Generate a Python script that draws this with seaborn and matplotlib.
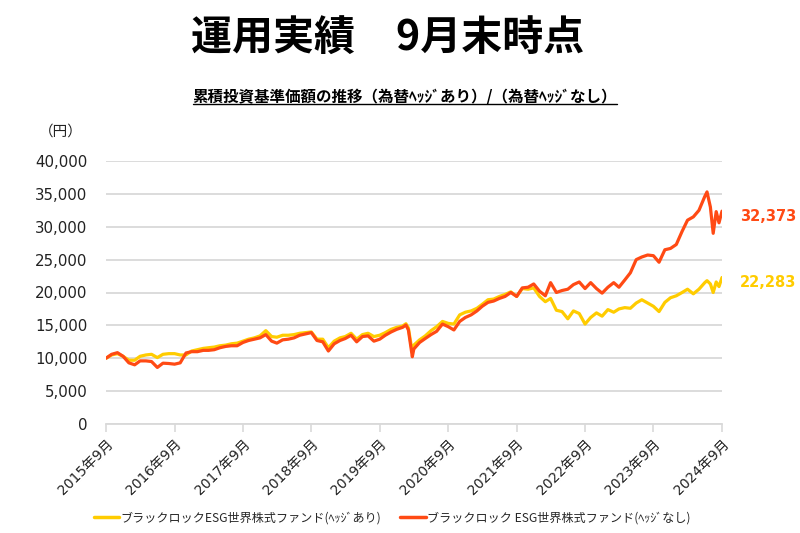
import numpy as np
import pandas as pd
import matplotlib
matplotlib.use("Agg")
import matplotlib.pyplot as plt
import matplotlib.dates as mdates
import seaborn as sns
from matplotlib.lines import Line2D
from matplotlib.transforms import IdentityTransform

# ---------------- data ----------------
title = "運用実績　9月末時点"
subtitle = "累積投資基準価額の推移（為替ﾍｯｼﾞあり）/（為替ﾍｯｼﾞなし）"
series_names = ["ブラックロックESG世界株式ファンド(ﾍｯｼﾞあり)",
                "ブラックロック ESG世界株式ファンド(ﾍｯｼﾞなし)"]
unit_label = "（円）"
end_labels = ["22,283", "32,373"]

months = pd.date_range("2015-09-01", "2024-09-01", freq="MS")

hedged = [
    10000, 10500, 10700, 10300,
    9700, 9700, 10300, 10500, 10600, 10100, 10600, 10700, 10700, 10500, 10500, 11100,
    11300, 11500, 11600, 11700, 11900, 12000, 12200, 12300, 12600, 12900, 13100, 13400,
    14200, 13300, 13200, 13500, 13500, 13600, 13800, 13900, 14000, 12900, 12900, 11600,
    12600, 13100, 13300, 13800, 12900, 13600, 13800, 13300, 13500, 13900, 14400, 14700,
    14900, 14600, 12000, 12800, 13400, 14200, 14800, 15600, 15300, 15200, 16600, 17000,
    17200, 17600, 18200, 18900, 19000, 19400, 19700, 20100, 19400, 20600, 20500, 20700,
    19400, 18600, 19100, 17300, 17100, 16000, 17200, 16800, 15200, 16200, 16900, 16400,
    17400, 17000, 17500, 17700, 17600, 18400, 18900, 18400, 17900, 17100, 18500, 19200,
    19500, 20000, 20500, 19800, 20500, 21500, 21300, 21600, 22283,
]

unhedged = [
    10000, 10600, 10850, 10300,
    9300, 9000, 9600, 9600, 9500, 8600, 9250, 9200, 9100, 9300, 10800, 11000,
    11000, 11200, 11200, 11300, 11600, 11800, 11900, 11900, 12400, 12700, 12900, 13100,
    13600, 12600, 12300, 12800, 12900, 13100, 13500, 13700, 13900, 12700, 12500, 11100,
    12200, 12700, 13000, 13500, 12500, 13300, 13400, 12600, 12900, 13500, 14000, 14400,
    14700, 14300, 11400, 12400, 13000, 13600, 14100, 15200, 14800, 14300, 15600, 16200,
    16600, 17200, 17900, 18500, 18700, 19100, 19400, 20000, 19400, 20700, 20800, 21300,
    20200, 19500, 21500, 20000, 20300, 20500, 21200, 21600, 20600, 21500, 20600, 19900,
    20800, 21500, 20800, 21900, 23000, 25000, 25400, 25700, 25600, 24600, 26500, 26700,
    27300, 29300, 31000, 31500, 32500, 34600, 33000, 32300, 32373,
]

extra_dates = ["2020-01-19", "2020-02-22", "2024-06-13", "2024-07-16", "2024-08-16"]
extra_hedged = [15250, 10900, 21800, 20000, 20900]
extra_unhedged = [15050, 10230, 35300, 29000, 30600]

tick_years = list(range(2015, 2025))

# ---------------- frame ----------------
dates = list(months) + list(pd.to_datetime(extra_dates))
df = pd.concat([
    pd.DataFrame({"date": dates, "value": hedged + extra_hedged, "series": series_names[0]}),
    pd.DataFrame({"date": dates, "value": unhedged + extra_unhedged, "series": series_names[1]}),
]).sort_values(["series", "date"])

colors = {series_names[0]: "#FFCC00", series_names[1]: "#FF4A14"}

sns.set_theme(style="white")
plt.rcParams["font.family"] = ["DejaVu Sans", "Noto Sans CJK JP"]
jp = ["Noto Sans CJK JP", "DejaVu Sans"]

fig = plt.figure(figsize=(8, 5.33), dpi=100)
ax = fig.add_axes([106 / 800, 1 - 424 / 533, (722 - 106) / 800, (424 - 161) / 533])

sns.lineplot(data=df, x="date", y="value", hue="series", hue_order=series_names,
             palette=colors, linewidth=2.3, ax=ax, legend=False, sort=True,
             estimator=None)

ax.set_ylim(0, 40000)
ax.set_xlim(months[0], months[-1])
ax.set_yticks(np.arange(0, 40001, 5000))
ax.set_yticklabels([f"{v:,}" for v in range(0, 40001, 5000)], fontsize=10.8, color="#222222")
ax.yaxis.grid(True, color="#D9D9D9", linewidth=1.3)
ax.set_axisbelow(True)
for s in ["top", "right", "left"]:
    ax.spines[s].set_visible(False)
ax.spines["bottom"].set_color("#D9D9D9")
ax.spines["bottom"].set_linewidth(1.3)
ax.tick_params(axis="y", length=0, pad=13.5)

xt = [pd.Timestamp(f"{y}-09-01") for y in tick_years]
ax.set_xticks(xt)
ax.set_xticklabels([f"{y}年9月" for y in tick_years], rotation=45, ha="right",
                   rotation_mode="anchor", fontsize=10, color="#222222")
ax.tick_params(axis="x", length=6, width=1.2, color="#D9D9D9", direction="out", pad=3,
               bottom=True)
ax.set_xlabel("")
ax.set_ylabel("")

# end labels
for name, vals, lab in zip(series_names, [hedged, unhedged], end_labels):
    ax.annotate(lab, xy=(months[-1], vals[-1]), xytext=(18, -5), textcoords="offset pixels",
                ha="left", va="center", fontsize=10.5, fontweight="bold", color=colors[name],
                annotation_clip=False)

# titles
fig.text(388 / 800, 1 - 39 / 533, title, ha="center", va="center", fontsize=29.5,
         fontweight="bold", family=jp, color="black")
st = fig.text(405 / 800, 1 - 97 / 533, subtitle, ha="center", va="center", fontsize=11.2,
              fontweight="bold", family=jp, color="black")
fig.text(61 / 800, 1 - 132 / 533, unit_label, ha="center", va="center", fontsize=10.5,
         family=jp, color="#222222")

# legend
handles = [Line2D([0], [0], color=colors[n], linewidth=2.5) for n in series_names]
fig.legend(handles, series_names, loc="center", bbox_to_anchor=(0.49, 1 - 518 / 533),
           ncol=2, frameon=False, prop={"family": jp, "size": 8.7},
           handlelength=2.1, handletextpad=0.1, columnspacing=1.6)

# underline subtitle
fig.canvas.draw()
bb = st.get_window_extent()
fig.add_artist(Line2D([bb.x0, bb.x1], [bb.y0 + 1, bb.y0 + 1], transform=IdentityTransform(),
                      color="black", linewidth=1.0))

fig.savefig("out.png", dpi=100)
